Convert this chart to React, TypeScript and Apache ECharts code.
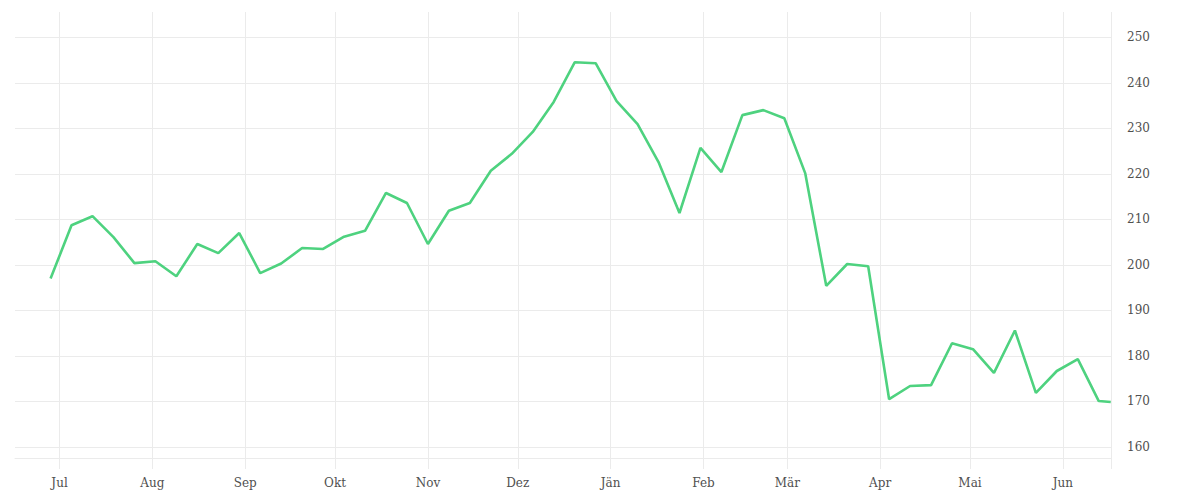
import React, { useEffect, useRef } from "react";
import * as echarts from "echarts";

const dates: string[] = [
  "2021-06-28", "2021-07-05", "2021-07-12", "2021-07-19", "2021-07-26",
  "2021-08-02", "2021-08-09", "2021-08-16", "2021-08-23", "2021-08-30",
  "2021-09-06", "2021-09-13", "2021-09-20", "2021-09-27",
  "2021-10-04", "2021-10-11", "2021-10-18", "2021-10-25",
  "2021-11-01", "2021-11-08", "2021-11-15", "2021-11-22", "2021-11-29",
  "2021-12-06", "2021-12-13", "2021-12-20", "2021-12-27",
  "2022-01-03", "2022-01-10", "2022-01-17", "2022-01-24", "2022-01-31",
  "2022-02-07", "2022-02-14", "2022-02-21", "2022-02-28",
  "2022-03-07", "2022-03-14", "2022-03-21", "2022-03-28",
  "2022-04-04", "2022-04-11", "2022-04-18", "2022-04-25",
  "2022-05-02", "2022-05-09", "2022-05-16", "2022-05-23", "2022-05-30",
  "2022-06-06", "2022-06-13", "2022-06-17",
];

const values: number[] = [
  197.0, 208.7, 210.7, 206.1, 200.4, 200.8, 197.5, 204.6, 202.6, 207.0,
  198.2, 200.3, 203.7, 203.5, 206.2, 207.5, 215.8, 213.6, 204.6, 211.9,
  213.6, 220.7, 224.4, 229.2, 235.8, 244.5, 244.3, 236.0, 230.9, 222.6,
  211.4, 225.7, 220.4, 232.9, 234.0, 232.2, 220.1, 195.4, 200.2, 199.7,
  170.5, 173.4, 173.6, 182.8, 181.5, 176.3, 185.6, 171.9, 176.7, 179.3,
  170.1, 169.9,
];

const monthStarts: string[] = [
  "2021-07-01", "2021-08-01", "2021-09-01", "2021-10-01", "2021-11-01", "2021-12-01",
  "2022-01-01", "2022-02-01", "2022-03-01", "2022-04-01", "2022-05-01", "2022-06-01",
];
const monthLabels: string[] = ["Jul", "Aug", "Sep", "Okt", "Nov", "Dez", "Jän", "Feb", "Mär", "Apr", "Mai", "Jun"];

const yTicks: number[] = [160, 170, 180, 190, 200, 210, 220, 230, 240, 250];

const toTs = (s: string, h = 0) => {
  const [y, m, d] = s.split("-").map(Number);
  return Date.UTC(y, m - 1, d, h);
};

export default function App() {
  const ref = useRef<HTMLDivElement>(null);
  useEffect(() => {
    if (!ref.current) return;
    const chart = echarts.init(ref.current, null, { renderer: "svg" });
    const xMin = toTs("2021-06-16", 3);
    const xMax = toTs("2022-06-17", 2);
    const monthTs = monthStarts.map((s) => toTs(s));
    const labelMap = new Map<number, string>();
    monthTs.forEach((t, i) => labelMap.set(t, monthLabels[i]));
    const grid = "#ebebeb";
    const font = "DejaVu Serif";
    chart.setOption({
      animation: false,
      grid: { left: 15, right: 89, top: 12, bottom: 42 },
      xAxis: {
        type: "value",
        min: xMin,
        max: xMax,
        axisLine: { show: true, lineStyle: { color: grid, width: 1 } },
        axisTick: { show: true, length: 11, lineStyle: { color: grid, width: 1 }, customValues: [...monthTs, xMax] },
        splitLine: { show: true, lineStyle: { color: grid, width: 1 } },
        axisLabel: {
          customValues: monthTs,
          formatter: (v: number) => labelMap.get(v) ?? "",
          color: "#505050",
          fontFamily: font,
          fontSize: 12,
          margin: 19,
          hideOverlap: false,
        },
      },
      yAxis: {
        type: "value",
        position: "right",
        min: 157.59,
        max: 255.55,
        axisLine: { show: false },
        axisTick: { show: false, customValues: yTicks },
        splitLine: { show: true, lineStyle: { color: grid, width: 1 } },
        axisLabel: {
          customValues: yTicks,
          color: "#505050",
          fontFamily: font,
          fontSize: 12,
          margin: 16,
          padding: [4, 0, 0, 0],
        },
      },
      series: [
        {
          type: "line",
          data: dates.map((d, i) => [toTs(d), values[i]]),
          showSymbol: false,
          symbol: "none",
          lineStyle: { color: "#4ed27f", width: 2.6 },
          itemStyle: { color: "#4ed27f" },
        },
      ],
    });
    return () => chart.dispose();
  }, []);
  return (
    <div
      ref={ref}
      style={{ position: "fixed", left: 0, top: 0, width: 1200, height: 500, background: "#fff" }}
    />
  );
}
